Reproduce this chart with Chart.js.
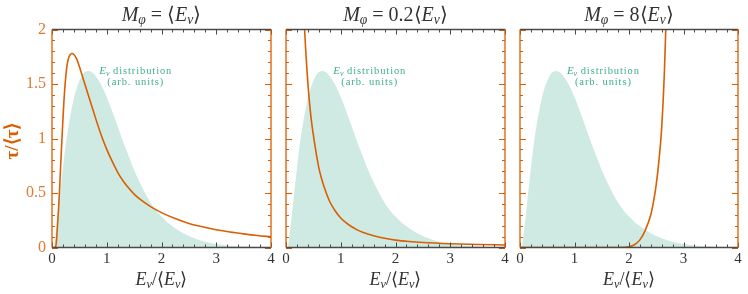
<!DOCTYPE html>
<html>
<head>
<meta charset="utf-8">
<script src="https://cdn.jsdelivr.net/npm/chart.js@4/dist/chart.umd.min.js"></script>
<style>
  html, body { margin: 0; padding: 0; background: #fff; }
  #wrap { position: relative; width: 748px; height: 294px; overflow: hidden; font-family: 'Liberation Serif', serif; color: #333; }
  canvas { position: absolute; top: 0; }
  .ttl { position: absolute; top: 3px; width: 220px; text-align: center; font-size: 20px; line-height: 22px; }
  .xl { position: absolute; top: 269px; width: 220px; text-align: center; font-size: 18px; line-height: 20px; }
  .yl { position: absolute; left: -38px; top: 131px; width: 100px; text-align: center; font-size: 19px; line-height: 20px;
        color: #d95f02; font-weight: bold; transform: rotate(-90deg); }
  sub { font-size: 68%; vertical-align: -3px; line-height: 0; }
</style>
</head>
<body>
<div id="wrap"></div>
<script>
// axis ticks
const xTicks = [0, 1, 2, 3, 4];
const yTicks = [0, 0.5, 1, 1.5, 2];

// E_nu distribution (arb. units), same in all panels
const distX = [0, 0.03, 0.06, 0.1, 0.15, 0.2, 0.25, 0.3, 0.35, 0.4, 0.45, 0.5, 0.55, 0.6, 0.67, 0.75, 0.8, 0.9, 1.0, 1.1, 1.2, 1.3, 1.4, 1.5, 1.6, 1.7, 1.8, 1.9, 2.0, 2.1, 2.2, 2.3, 2.4, 2.6, 2.8, 3.0, 3.2, 3.5, 4.0];
const distY = [0, 0, 0.1, 0.27, 0.5, 0.73, 0.94, 1.11, 1.25, 1.37, 1.46, 1.53, 1.58, 1.61, 1.62, 1.6, 1.57, 1.49, 1.38, 1.25, 1.11, 0.97, 0.84, 0.71, 0.6, 0.5, 0.41, 0.34, 0.285, 0.235, 0.195, 0.16, 0.13, 0.085, 0.053, 0.032, 0.019, 0.009, 0.002];

// tau / <tau>, one curve per panel
const tauX1 = [0, 0.06, 0.08, 0.1, 0.12, 0.14, 0.16, 0.18, 0.2, 0.22, 0.25, 0.28, 0.32, 0.36, 0.4, 0.45, 0.5, 0.55, 0.6, 0.7, 0.8, 0.9, 1.0, 1.1, 1.2, 1.3, 1.4, 1.5, 1.6, 1.8, 2.0, 2.25, 2.5, 2.75, 3.0, 3.25, 3.5, 3.75, 4.0];
const tauY1 = [0, 0, 0.05, 0.2, 0.36, 0.55, 0.77, 0.98, 1.18, 1.36, 1.56, 1.69, 1.76, 1.78, 1.77, 1.73, 1.66, 1.58, 1.5, 1.34, 1.18, 1.03, 0.9, 0.79, 0.69, 0.61, 0.545, 0.49, 0.445, 0.375, 0.32, 0.265, 0.22, 0.19, 0.163, 0.142, 0.125, 0.11, 0.098];

const tauX2 = [0.3, 0.34, 0.38, 0.42, 0.46, 0.5, 0.55, 0.6, 0.65, 0.7, 0.8, 0.9, 1.0, 1.1, 1.2, 1.3, 1.4, 1.6, 1.8, 2.0, 2.25, 2.5, 3.0, 3.5, 4.0];
const tauY2 = [2.5, 2.0, 1.65, 1.38, 1.18, 1.03, 0.87, 0.73, 0.63, 0.55, 0.42, 0.335, 0.27, 0.225, 0.19, 0.162, 0.14, 0.108, 0.085, 0.068, 0.055, 0.046, 0.035, 0.028, 0.023];

const tauX3 = [0, 1.8, 1.9, 2.0, 2.1, 2.2, 2.3, 2.4, 2.45, 2.5, 2.55, 2.6, 2.65, 2.7];
const tauY3 = [0, 0, 0.001, 0.006, 0.025, 0.07, 0.16, 0.3, 0.42, 0.58, 0.8, 1.1, 1.62, 2.4];

const titles = [
  '<i>M</i><sub><i>φ</i></sub> = ⟨<i>E</i><sub><i>ν</i></sub>⟩',
  '<i>M</i><sub><i>φ</i></sub> = 0.2⟨<i>E</i><sub><i>ν</i></sub>⟩',
  '<i>M</i><sub><i>φ</i></sub> = 8⟨<i>E</i><sub><i>ν</i></sub>⟩'
];
const xLabel = '<i>E</i><sub><i>ν</i></sub>/⟨<i>E</i><sub><i>ν</i></sub>⟩';
const yLabel = 'τ/⟨τ⟩';
const annot1 = ' distribution';
const annot2 = '(arb. units)';

const ORANGE = '#d95f02';
const GREEN_FILL = 'rgba(27,158,119,0.21)';
const GREEN_TEXT = '#3fae8c';
const GRAY = '#4a4a4a';

// panel plot areas (left, right) in page pixels
const panels = [
  { left: 52, right: 271, tx: tauX1, ty: tauY1, yw: 52 },
  { left: 286, right: 505, tx: tauX2, ty: tauY2, yw: 8 },
  { left: 520, right: 738, tx: tauX3, ty: tauY3, yw: 8 }
];

function pts(xs, ys) {
  return xs.map((x, i) => ({ x: x, y: ys[i] }));
}

const framePlugin = {
  id: 'frame',
  afterDatasetsDraw(chart) {
    const ctx = chart.ctx;
    const a = chart.chartArea;
    const xs = chart.scales.x, ys = chart.scales.y;
    ctx.save();
    ctx.lineWidth = 1;
    // x ticks top and bottom
    ctx.strokeStyle = GRAY;
    for (let k = 0; k <= 20; k++) {
      const v = k * 0.2;
      const px = Math.round(xs.getPixelForValue(v)) + 0.5;
      const len = (k % 5 === 0) ? 5 : 3;
      ctx.beginPath();
      ctx.moveTo(px, a.bottom); ctx.lineTo(px, a.bottom - len);
      ctx.moveTo(px, a.top); ctx.lineTo(px, a.top + len);
      ctx.stroke();
    }
    // y ticks left and right
    ctx.strokeStyle = ORANGE;
    for (let k = 0; k <= 20; k++) {
      const v = k * 0.1;
      const py = Math.round(ys.getPixelForValue(v)) + 0.5;
      const len = (k % 5 === 0) ? 6 : 3;
      ctx.beginPath();
      ctx.moveTo(a.left, py); ctx.lineTo(a.left + len, py);
      ctx.moveTo(a.right, py); ctx.lineTo(a.right - len, py);
      ctx.stroke();
    }
    // frame
    ctx.lineWidth = 1.3;
    ctx.strokeStyle = GRAY;
    ctx.beginPath();
    ctx.moveTo(a.left, a.top); ctx.lineTo(a.right, a.top);
    ctx.moveTo(a.left, a.bottom); ctx.lineTo(a.right, a.bottom);
    ctx.stroke();
    ctx.strokeStyle = ORANGE;
    ctx.beginPath();
    ctx.moveTo(a.left, a.top); ctx.lineTo(a.left, a.bottom);
    ctx.moveTo(a.right, a.top); ctx.lineTo(a.right, a.bottom);
    ctx.stroke();

    // annotation
    const cx = xs.getPixelForValue(1.53);
    const y1 = ys.getPixelForValue(1.62);
    const y2 = ys.getPixelForValue(1.515);
    ctx.fillStyle = GREEN_TEXT;
    ctx.textBaseline = 'middle';
    const f1 = 'italic 11px "Liberation Serif"';
    const f2 = 'italic 8px "Liberation Serif"';
    const f3 = '10.5px "Liberation Serif"';
    ctx.font = f1; const wE = ctx.measureText('E').width;
    ctx.font = f2; const wN = ctx.measureText('ν').width;
    ctx.font = f3; ctx.letterSpacing = '0.9px';
    const wD = ctx.measureText(annot1).width;
    let x0 = cx - (wE + wN + wD) / 2;
    ctx.letterSpacing = '0px';
    ctx.font = f1; ctx.fillText('E', x0, y1);
    ctx.font = f2; ctx.fillText('ν', x0 + wE, y1 + 3);
    ctx.font = f3; ctx.letterSpacing = '0.9px';
    ctx.fillText(annot1, x0 + wE + wN, y1);
    ctx.textAlign = 'center';
    ctx.fillText(annot2, cx, y2);
    ctx.restore();
  }
};

const wrap = document.getElementById('wrap');

panels.forEach((p, i) => {
  const rp = 10;
  const cw = p.yw + (p.right - p.left) + rp;
  const cv = document.createElement('canvas');
  cv.width = cw; cv.height = 294;
  cv.style.left = (p.left - p.yw) + 'px';
  cv.style.width = cw + 'px'; cv.style.height = '294px';
  wrap.appendChild(cv);

  new Chart(cv.getContext('2d'), {
    type: 'line',
    data: {
      datasets: [
        {
          data: pts(p.tx, p.ty),
          borderColor: ORANGE,
          borderWidth: 1.6,
          pointRadius: 0,
          fill: false,
          cubicInterpolationMode: 'monotone'
        },
        {
          data: pts(distX, distY),
          borderWidth: 0,
          borderColor: 'rgba(0,0,0,0)',
          backgroundColor: GREEN_FILL,
          fill: 'origin',
          pointRadius: 0,
          cubicInterpolationMode: 'monotone'
        }
      ]
    },
    options: {
      responsive: false,
      animation: false,
      devicePixelRatio: 1,
      layout: { padding: { top: 29.5, right: rp, left: 0, bottom: 0 } },
      plugins: { legend: { display: false }, tooltip: { enabled: false } },
      scales: {
        x: {
          type: 'linear', min: 0, max: 4,
          afterBuildTicks: s => { s.ticks = xTicks.map(v => ({ value: v })); },
          afterFit: s => { s.height = 46.5; },
          grid: { display: false, drawTicks: false }, border: { display: false },
          ticks: { color: '#333', padding: 3, maxRotation: 0, autoSkip: false,
                   callback: v => String(v),
                   font: { family: 'Liberation Serif', size: 15 } }
        },
        y: {
          type: 'linear', min: 0, max: 2,
          afterBuildTicks: s => { s.ticks = yTicks.map(v => ({ value: v })); },
          afterFit: s => { s.width = p.yw; },
          grid: { display: false, drawTicks: false }, border: { display: false },
          ticks: { display: i === 0, color: '#e07a30', padding: 6,
                   callback: v => String(v),
                   font: { family: 'Liberation Serif', size: 16 } }
        }
      }
    },
    plugins: [framePlugin]
  });

  const t = document.createElement('div');
  t.className = 'ttl';
  t.style.left = ((p.left + p.right) / 2 - 110) + 'px';
  t.innerHTML = titles[i];
  wrap.appendChild(t);

  const xl = document.createElement('div');
  xl.className = 'xl';
  xl.style.left = ((p.left + p.right) / 2 - 110) + 'px';
  xl.innerHTML = xLabel;
  wrap.appendChild(xl);
});

const yl = document.createElement('div');
yl.className = 'yl';
yl.textContent = yLabel;
wrap.appendChild(yl);
</script>
</body>
</html>
